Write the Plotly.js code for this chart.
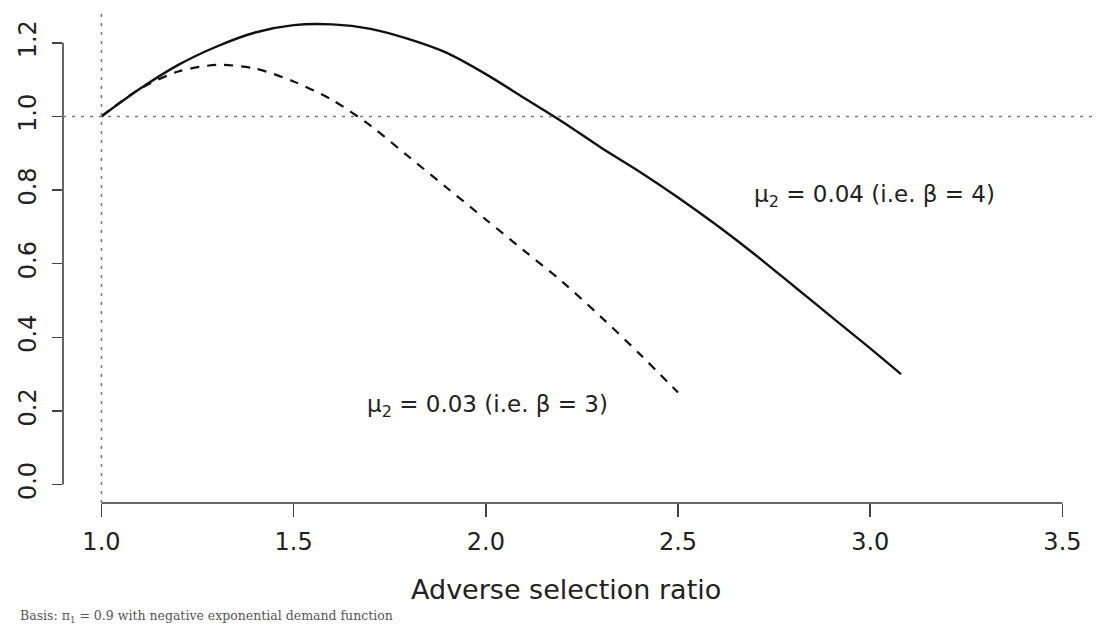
<!DOCTYPE html>
<html>
<head>
<meta charset="utf-8">
<script src="https://cdn.plot.ly/plotly-3.0.1.min.js"></script>
<style>html,body{margin:0;padding:0;background:#fff;}#chart{width:1096px;height:632px;}</style>
</head>
<body>
<div id="chart"></div>
<script>
// Adverse selection ratio (x) and ratio values for the two curves
const xBeta4 = [1.0, 1.1, 1.2, 1.3, 1.4, 1.5, 1.6, 1.7, 1.8, 1.9, 2.0, 2.1, 2.2, 2.3, 2.4, 2.5, 2.6, 2.7, 2.8, 2.9, 3.0, 3.08];
const yBeta4 = [1.0, 1.075, 1.14, 1.19, 1.228, 1.248, 1.25, 1.238, 1.21, 1.172, 1.115, 1.05, 0.985, 0.915, 0.85, 0.78, 0.705, 0.625, 0.54, 0.455, 0.37, 0.30];
const xBeta3 = [1.0, 1.1, 1.2, 1.3, 1.4, 1.5, 1.6, 1.7, 1.8, 1.9, 2.0, 2.1, 2.2, 2.3, 2.4, 2.5];
const yBeta3 = [1.0, 1.075, 1.122, 1.14, 1.13, 1.095, 1.045, 0.975, 0.89, 0.805, 0.72, 0.635, 0.55, 0.455, 0.355, 0.25];
const xTicks = [1.0, 1.5, 2.0, 2.5, 3.0, 3.5];
const xTickText = ["1.0", "1.5", "2.0", "2.5", "3.0", "3.5"];
const yTicks = [0.0, 0.2, 0.4, 0.6, 0.8, 1.0, 1.2];
const yTickText = ["0.0", "0.2", "0.4", "0.6", "0.8", "1.0", "1.2"];
const labelBeta4 = "μ<sub>2</sub> = 0.04 (i.e. β = 4)";
const labelBeta3 = "μ<sub>2</sub> = 0.03 (i.e. β = 3)";
const xTitle = "Adverse selection ratio";
const footnote = "Basis: π<sub>1</sub> = 0.9 with negative exponential demand function";

const font = "DejaVu Sans, Liberation Sans, Arial, sans-serif";

const traces = [
  {x: xBeta4, y: yBeta4, mode: "lines", line: {color: "#111", width: 2.4, shape: "spline", smoothing: 0.8}, hoverinfo: "skip"},
  {x: xBeta3, y: yBeta3, mode: "lines", line: {color: "#111", width: 2.2, dash: "9px,8px", shape: "spline", smoothing: 0.8}, hoverinfo: "skip"}
];

const layout = {
  width: 1096, height: 632,
  margin: {l: 63, r: 0, t: 6, b: 129},
  paper_bgcolor: "#fff", plot_bgcolor: "#fff",
  showlegend: false,
  font: {family: font, color: "#222", size: 24},
  xaxis: {
    range: [0.9, 0.9 + 1033 / 384.4],
    tickvals: xTicks, ticktext: xTickText,
    ticks: "outside", ticklen: 13, tickwidth: 1.5, tickcolor: "#444",
    showgrid: false, zeroline: false, showline: false,
    tickfont: {family: font, size: 24, color: "#222"},
    ticklabelstandoff: 4
  },
  yaxis: {
    range: [-0.05, 1.3],
    tickvals: yTicks, ticktext: yTickText,
    ticks: "outside", ticklen: 10, tickwidth: 1.5, tickcolor: "#444",
    showgrid: false, zeroline: false, showline: false,
    tickangle: -90,
    tickfont: {family: font, size: 24, color: "#222"},
    ticklabelstandoff: 6
  },
  shapes: [
    {type: "line", xref: "paper", yref: "y", x0: 0, x1: 0, y0: 0, y1: 1.2, line: {color: "#333", width: 1.5}},
    {type: "line", xref: "x", yref: "paper", x0: 1.0, x1: 3.5, y0: 0, y1: 0, line: {color: "#333", width: 1.5}},
    {type: "line", xref: "paper", yref: "y", x0: 0, x1: 1, y0: 1.0, y1: 1.0, line: {color: "#777", width: 1.5, dash: "3px,6px"}},
    {type: "line", xref: "x", yref: "paper", x0: 1.0, x1: 1.0, y0: 0, y1: 0.99, line: {color: "#777", width: 1.5, dash: "3px,6px"}}
  ],
  annotations: [
    {text: labelBeta4, x: 3.011, y: 0.785, xref: "x", yref: "y", xanchor: "center", yanchor: "middle", showarrow: false, font: {family: font, size: 23, color: "#222"}},
    {text: labelBeta3, x: 2.004, y: 0.213, xref: "x", yref: "y", xanchor: "center", yanchor: "middle", showarrow: false, font: {family: font, size: 23, color: "#222"}},
    {text: xTitle, x: 0.487, y: -0.175, xref: "paper", yref: "paper", xanchor: "center", yanchor: "middle", showarrow: false, font: {family: font, size: 27, color: "#222"}},
    {text: footnote, x: -0.0436, y: -0.229, xref: "paper", yref: "paper", xanchor: "left", yanchor: "middle", showarrow: false, font: {family: "DejaVu Serif, Liberation Serif, serif", size: 12.5, color: "#555"}}
  ]
};

Plotly.newPlot("chart", traces, layout, {staticPlot: true, displayModeBar: false});
</script>
</body>
</html>
